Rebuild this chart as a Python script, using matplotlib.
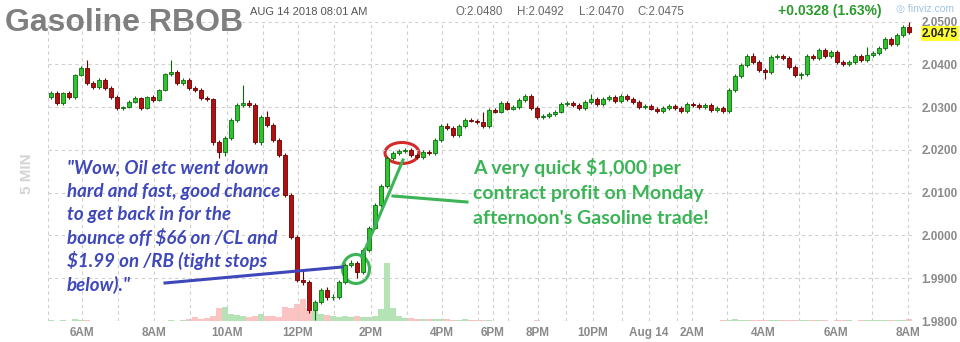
import matplotlib
matplotlib.use("Agg")
import matplotlib.pyplot as plt
import numpy as np
from matplotlib.lines import Line2D
from matplotlib.patches import Ellipse
from matplotlib.transforms import blended_transform_factory

# 10-minute candles, Aug 13 ~5AM -> Aug 14 8:01AM
opens = [2.0324, 2.0333, 2.0310, 2.0333, 2.0324, 2.0375, 2.0391, 2.0356, 2.0347, 2.0363,
         2.0345, 2.0324, 2.0298, 2.0300, 2.0312, 2.0321, 2.0298, 2.0324, 2.0317, 2.0340,
         2.0377, 2.0382, 2.0356, 2.0363, 2.0345, 2.0340, 2.0321, 2.0319, 2.0218, 2.0195,
         2.0228, 2.0270, 2.0305, 2.0310, 2.0305, 2.0218, 2.0277, 2.0258, 2.0223, 2.0188,
         2.0095, 1.9997, 1.9896, 1.9890, 1.9826, 1.9845, 1.9873, 1.9855, 1.9856, 1.9891,
         1.9931, 1.9936, 1.9915, 1.9966, 2.0018, 2.0071, 2.0116, 2.0181, 2.0193, 2.0197,
         2.0200, 2.0188, 2.0183, 2.0195, 2.0193, 2.0223, 2.0256, 2.0251, 2.0235, 2.0256,
         2.0270, 2.0268, 2.0265, 2.0256, 2.0293, 2.0289, 2.0310, 2.0296, 2.0300, 2.0317,
         2.0326, 2.0298, 2.0277, 2.0279, 2.0284, 2.0289, 2.0307, 2.0310, 2.0305, 2.0298,
         2.0312, 2.0319, 2.0307, 2.0319, 2.0324, 2.0314, 2.0326, 2.0319, 2.0312, 2.0300,
         2.0303, 2.0296, 2.0291, 2.0298, 2.0303, 2.0298, 2.0291, 2.0307, 2.0305, 2.0300,
         2.0305, 2.0293, 2.0298, 2.0291, 2.0340, 2.0373, 2.0398, 2.0419, 2.0405, 2.0387,
         2.0382, 2.0417, 2.0419, 2.0415, 2.0394, 2.0375, 2.0377, 2.0419, 2.0415, 2.0433,
         2.0419, 2.0429, 2.0405, 2.0401, 2.0405, 2.0419, 2.0410, 2.0422, 2.0426, 2.0438,
         2.0459, 2.0447, 2.0468, 2.0487]
closes = [2.0333, 2.0310, 2.0333, 2.0324, 2.0375, 2.0391, 2.0356, 2.0347, 2.0363, 2.0345,
          2.0324, 2.0298, 2.0300, 2.0312, 2.0321, 2.0298, 2.0324, 2.0317, 2.0340, 2.0377,
          2.0382, 2.0356, 2.0363, 2.0345, 2.0340, 2.0321, 2.0319, 2.0218, 2.0195, 2.0228,
          2.0270, 2.0305, 2.0310, 2.0305, 2.0218, 2.0277, 2.0258, 2.0223, 2.0188, 2.0095,
          1.9997, 1.9896, 1.9890, 1.9826, 1.9845, 1.9873, 1.9855, 1.9856, 1.9891, 1.9931,
          1.9936, 1.9915, 1.9966, 2.0018, 2.0071, 2.0116, 2.0181, 2.0193, 2.0197, 2.0200,
          2.0188, 2.0183, 2.0195, 2.0193, 2.0223, 2.0256, 2.0251, 2.0235, 2.0256, 2.0270,
          2.0268, 2.0265, 2.0256, 2.0293, 2.0289, 2.0310, 2.0296, 2.0300, 2.0317, 2.0326,
          2.0298, 2.0277, 2.0279, 2.0284, 2.0289, 2.0307, 2.0310, 2.0305, 2.0298, 2.0312,
          2.0319, 2.0307, 2.0319, 2.0324, 2.0314, 2.0326, 2.0319, 2.0312, 2.0300, 2.0303,
          2.0296, 2.0291, 2.0298, 2.0303, 2.0298, 2.0291, 2.0307, 2.0305, 2.0300, 2.0305,
          2.0293, 2.0298, 2.0291, 2.0340, 2.0373, 2.0398, 2.0419, 2.0405, 2.0387, 2.0382,
          2.0417, 2.0419, 2.0415, 2.0394, 2.0375, 2.0377, 2.0419, 2.0415, 2.0433, 2.0419,
          2.0429, 2.0405, 2.0401, 2.0405, 2.0419, 2.0410, 2.0422, 2.0426, 2.0438, 2.0459,
          2.0447, 2.0468, 2.0487, 2.0475]
highs = [2.0338, 2.0337, 2.0336, 2.0338, 2.0378, 2.0397, 2.0410, 2.0360, 2.0367, 2.0368,
         2.0349, 2.0328, 2.0303, 2.0316, 2.0325, 2.0324, 2.0327, 2.0328, 2.0343, 2.0380,
         2.0409, 2.0386, 2.0367, 2.0367, 2.0349, 2.0344, 2.0325, 2.0322, 2.0222, 2.0232,
         2.0274, 2.0309, 2.0352, 2.0316, 2.0309, 2.0281, 2.0290, 2.0262, 2.0227, 2.0192,
         2.0099, 2.0001, 1.9921, 1.9895, 1.9850, 1.9878, 1.9880, 1.9862, 1.9895, 1.9935,
         1.9942, 1.9940, 1.9970, 2.0022, 2.0075, 2.0120, 2.0185, 2.0197, 2.0202, 2.0205,
         2.0204, 2.0192, 2.0199, 2.0199, 2.0227, 2.0260, 2.0262, 2.0255, 2.0260, 2.0274,
         2.0274, 2.0272, 2.0289, 2.0297, 2.0297, 2.0314, 2.0314, 2.0304, 2.0321, 2.0330,
         2.0330, 2.0302, 2.0283, 2.0288, 2.0293, 2.0311, 2.0314, 2.0314, 2.0309, 2.0316,
         2.0331, 2.0323, 2.0323, 2.0328, 2.0328, 2.0330, 2.0330, 2.0323, 2.0316, 2.0307,
         2.0307, 2.0300, 2.0302, 2.0307, 2.0307, 2.0302, 2.0311, 2.0311, 2.0309, 2.0309,
         2.0309, 2.0302, 2.0302, 2.0344, 2.0377, 2.0402, 2.0423, 2.0426, 2.0409, 2.0391,
         2.0421, 2.0423, 2.0423, 2.0419, 2.0398, 2.0381, 2.0423, 2.0423, 2.0437, 2.0437,
         2.0433, 2.0433, 2.0409, 2.0409, 2.0423, 2.0423, 2.0440, 2.0430, 2.0442, 2.0463,
         2.0463, 2.0472, 2.0492, 2.0500]
lows = [2.0320, 2.0305, 2.0306, 2.0320, 2.0318, 2.0372, 2.0352, 2.0342, 2.0343, 2.0341,
        2.0320, 2.0294, 2.0292, 2.0297, 2.0309, 2.0294, 2.0295, 2.0313, 2.0314, 2.0337,
        2.0373, 2.0352, 2.0351, 2.0341, 2.0336, 2.0317, 2.0314, 2.0212, 2.0180, 2.0185,
        2.0224, 2.0266, 2.0301, 2.0301, 2.0214, 2.0212, 2.0254, 2.0219, 2.0184, 2.0090,
        1.9992, 1.9891, 1.9885, 1.9818, 1.9803, 1.9840, 1.9850, 1.9848, 1.9852, 1.9887,
        1.9926, 1.9900, 1.9911, 1.9962, 2.0014, 2.0067, 2.0112, 2.0177, 2.0189, 2.0193,
        2.0184, 2.0179, 2.0179, 2.0189, 2.0189, 2.0219, 2.0247, 2.0231, 2.0231, 2.0252,
        2.0264, 2.0261, 2.0252, 2.0252, 2.0285, 2.0285, 2.0292, 2.0292, 2.0296, 2.0313,
        2.0294, 2.0273, 2.0273, 2.0275, 2.0280, 2.0285, 2.0303, 2.0301, 2.0294, 2.0294,
        2.0308, 2.0303, 2.0303, 2.0315, 2.0310, 2.0310, 2.0315, 2.0308, 2.0296, 2.0296,
        2.0292, 2.0287, 2.0287, 2.0294, 2.0294, 2.0287, 2.0287, 2.0301, 2.0296, 2.0296,
        2.0289, 2.0289, 2.0287, 2.0287, 2.0336, 2.0369, 2.0394, 2.0401, 2.0383, 2.0366,
        2.0378, 2.0413, 2.0411, 2.0390, 2.0371, 2.0366, 2.0373, 2.0411, 2.0411, 2.0415,
        2.0415, 2.0401, 2.0397, 2.0397, 2.0401, 2.0406, 2.0406, 2.0418, 2.0422, 2.0434,
        2.0443, 2.0443, 2.0464, 2.0470]
volumes = [60, 40, 80, 50, 250, 120, 80, 40, 30, 40, 30, 20, 30, 20, 30, 20, 40, 30, 20, 40,
           60, 50, 100, 200, 450, 250, 300, 500, 1300, 1400, 700, 600, 500, 450, 500, 700,
           550, 500, 450, 1400, 1300, 1700, 2200, 1200, 1000, 700, 600, 500, 450, 500, 400,
           500, 450, 400, 500, 1200, 5800, 1300, 500, 300, 300, 250, 200, 250, 200, 250, 200,
           150, 150, 200, 150, 100, 80, 60, 40, 30, 40, 30, 50, 40, 30, 60, 40, 30, 20, 30,
           40, 20, 30, 40, 30, 20, 30, 40, 30, 30, 20, 40, 30, 20, 30, 20, 40, 30, 20, 30,
           40, 30, 20, 40, 30, 50, 60, 150, 200, 120, 100, 150, 120, 100, 150, 80, 100, 80,
           60, 80, 100, 60, 80, 60, 50, 60, 80, 60, 50, 60, 80, 100, 80, 120, 100, 150,
           120, 200]

price_ticks = [1.98, 1.99, 2.00, 2.01, 2.02, 2.03, 2.04, 2.05]
# hour boundaries expressed in bar-index units (finviz compresses idle periods)
hour_bars = [5.67, 11.67, 17.67, 23.67, 29.83, 35.83, 41.67, 47.67, 53.83, 59.83, 65.67,
             71.67, 74.17, 76.67, 81.67, 86.33, 90.83, 95.67, 100.17, 104.83, 107.33,
             113.17, 119.17, 125.17, 131.33, 137.33, 143.33]
label_bars = [5.67, 17.67, 29.83, 41.67, 53.83, 65.67, 74.17, 81.67, 90.83, 100.17,
              107.33, 119.17, 131.33, 143.33]
time_labels = ['6AM', '8AM', '10AM', '12PM', '2PM', '4PM', '6PM', '8PM', '10PM',
               'Aug 14', '2AM', '4AM', '6AM', '8AM']
last_price = 2.0475

plt.rcParams['font.family'] = ['Liberation Sans', 'DejaVu Sans']
W, H = 960, 342
fig = plt.figure(figsize=(W / 100, H / 100), dpi=100)
fig.patch.set_facecolor('white')


def fx(px):
    return px / W


def fy(py):
    return 1 - py / H


ax = fig.add_axes([fx(48), fy(321), fx(912) - fx(48), fy(21.5) - fy(321)])
axv = ax.twinx()
ax.set_zorder(axv.get_zorder() + 1)
ax.patch.set_visible(False)

n = len(opens)
x = np.arange(n) + 0.5
o = np.array(opens)
c = np.array(closes)
up = c >= o

# volume
vcol = np.where(up, '#b5e3b5', '#fcc3c3')
axv.bar(x, volumes, width=0.85, color=vcol, linewidth=0)
axv.set_ylim(0, max(volumes) * 300 / 58)
axv.set_yticks([])
for s in axv.spines.values():
    s.set_visible(False)

# grid
grid_kw = dict(color='#cfcfcf', lw=0.8, linestyle=(0, (3, 3)), zorder=0)
for p in price_ticks:
    ax.axhline(p, **grid_kw)
for b in [0] + hour_bars + [n]:
    ax.axvline(b, **grid_kw)

# candles
ax.vlines(x, lows, highs, color=np.where(up, '#0b6b0b', '#6a0000'), lw=0.8, zorder=2)
body_h = np.maximum(np.abs(c - o), 0.00012)
ax.bar(x, body_h, bottom=np.minimum(o, c), width=0.62,
       color=np.where(up, '#2fc42f', '#b01010'),
       edgecolor=np.where(up, '#0d6d0d', '#6a0000'), linewidth=0.6, zorder=3)

ax.set_xlim(0, n)
ax.set_ylim(1.98, 2.05)
for s in ax.spines.values():
    s.set_visible(False)
ax.yaxis.tick_right()
ax.set_yticks(price_ticks)
ax.set_yticklabels(['%.4f' % p for p in price_ticks])
ax.tick_params(axis='y', length=0, pad=7, labelsize=8.5, labelcolor='#8a8a8a')
ax.set_xticks(label_bars)
ax.set_xticklabels(time_labels)
ax.tick_params(axis='x', length=0, pad=4, labelsize=8.5, labelcolor='#8a8a8a')
for lab in ax.get_xticklabels() + ax.get_yticklabels():
    lab.set_fontweight('bold')

ax.annotate('%.4f' % last_price, xy=(1, last_price),
            xycoords=blended_transform_factory(ax.transAxes, ax.transData),
            xytext=(7, -1), textcoords='offset points', va='center', ha='left',
            fontsize=8.5, fontweight='bold', color='#222222',
            bbox=dict(boxstyle='square,pad=0.1', fc='#ffff33', ec='none'))

# header
fig.text(fx(5), fy(31), 'Gasoline RBOB', fontsize=23, fontweight='bold', color='#7f7f7f')
fig.text(fx(250), fy(15), 'AUG 14 2018 08:01 AM', fontsize=8, color='#555555')
for xpos, s in [(455, 'O:2.0480'), (517, 'H:2.0492'), (579, 'L:2.0470'), (637, 'C:2.0475')]:
    fig.text(fx(xpos), fy(15), s, fontsize=8.3, color='#666666')
fig.text(fx(778), fy(15), '+0.0328 (1.63%)', fontsize=10, fontweight='bold', color='#2c9a2c')
fig.text(fx(896), fy(12), '\u25ce finviz.com', fontsize=7.5, color='#9ec3e3')
fig.text(fx(27), fy(174), '5 MIN', fontsize=11, fontweight='bold', color='#d4d4d4',
         rotation=90, ha='center', va='center')

# annotations
blue = '#3f48bb'
green = '#3bb456'
blue_lines = ['"Wow, Oil etc went down', 'hard and fast, good chance', 'to get back in for the',
              'bounce off $66 on /CL and', '$1.99 on /RB (tight stops', 'below)."']
green_lines = ["A very quick $1,000 per", "contract profit on Monday",
               "afternoon's Gasoline trade!"]
for i, s in enumerate(blue_lines):
    fig.text(fx(67), fy(173.5 + 23.4 * i), s, fontsize=13.5, fontweight='bold',
             style='italic', color=blue, family=['Lato', 'DejaVu Sans'])
for i, s in enumerate(green_lines):
    fig.text(fx(473), fy(174 + 25 * i), s, fontsize=14, fontweight='bold',
             color=green, family=['Lato', 'DejaVu Sans'])

fig.add_artist(Line2D([fx(165), fx(342)], [fy(283), fy(267)], color=blue, lw=2.2,
                      transform=fig.transFigure))
fig.add_artist(Line2D([fx(467), fx(393)], [fy(202), fy(196)], color=green, lw=2.2,
                      transform=fig.transFigure))
fig.add_artist(Line2D([fx(362), fx(403)], [fy(257), fy(160)], color=green, lw=2.2,
                      transform=fig.transFigure))
fig.add_artist(Ellipse((fx(356), fy(269)), fx(27), 29 / H, fill=False, ec=green, lw=2.2,
                       transform=fig.transFigure))
fig.add_artist(Ellipse((fx(402), fy(153)), fx(34), 21 / H, fill=False, ec='#d42a2a', lw=2.2,
                       transform=fig.transFigure))

fig.savefig('out.png', dpi=100, facecolor='white')
